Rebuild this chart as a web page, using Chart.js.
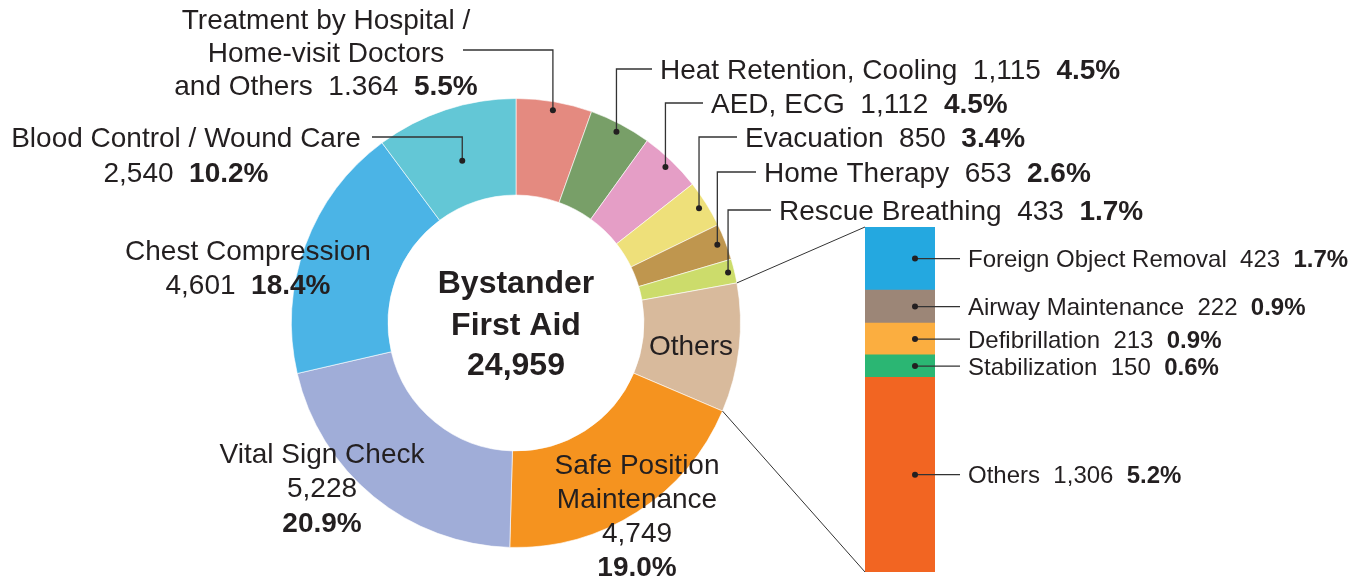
<!DOCTYPE html>
<html>
<head>
<meta charset="utf-8">
<script src="https://cdn.jsdelivr.net/npm/chart.js@4.4.1/dist/chart.umd.min.js"></script>
<style>
  body { margin: 0; background: #fff; }
  #wrap { position: relative; width: 1362px; height: 580px; }
  #wrap canvas { position: absolute; left: 0; top: 0; }
</style>
</head>
<body>
<div id="wrap">
  <canvas id="pieChart" width="1362" height="580"></canvas>
  <canvas id="barChart" width="1362" height="580"></canvas>
</div>
<script>
// Main ring, clockwise from 12 o'clock
const categories = [
    'Treatment by Hospital / Home-visit Doctors and Others',
    'Heat Retention, Cooling',
    'AED, ECG',
    'Evacuation',
    'Home Therapy',
    'Rescue Breathing',
    'Others',
    'Safe Position Maintenance',
    'Vital Sign Check',
    'Chest Compression',
    'Blood Control / Wound Care'
];
const values = [1364, 1115, 1112, 850, 653, 433, 2314, 4749, 5228, 4601, 2540];
// value text as printed in the source (note "1.364")
const valueLabels = ['1.364', '1,115', '1,112', '850', '653', '433', '2,314', '4,749', '5,228', '4,601', '2,540'];
const colors = [
    '#E48A80',  // Treatment
    '#789F68',  // Heat Retention
    '#E59EC6',  // AED
    '#EEE07A',  // Evacuation
    '#BF964E',  // Home Therapy
    '#CCDC6B',  // Rescue Breathing
    '#D8BA9C',  // Others
    '#F5931F',  // Safe Position
    '#A0ADD8',  // Vital Sign
    '#4BB4E6',  // Chest Compression
    '#63C7D6'   // Blood Control
];

// Breakdown of "Others", top to bottom
const otherCategories = ['Foreign Object Removal', 'Airway Maintenance', 'Defibrillation', 'Stabilization', 'Others'];
const otherValues = [423, 222, 213, 150, 1306];
const otherColors = ['#24A8E0', '#9C8677', '#FBAE40', '#2BB673', '#F26522'];

const centerTitle = ['Bystander', 'First Aid'];

const FONT = '"Liberation Sans", Arial, Helvetica, sans-serif';
const TEXT_COLOR = '#231F20';
const LINE_COLOR = '#333333';

const total = values.reduce((a, b) => a + b, 0);
const pct = v => (v / total * 100).toFixed(1) + '%';

// label placement per slice ({v} = value, {p} = bold percent)
const labelLayout = [
    { align: 'center', x: 326, ys: [29, 62, 95], lines: ['Treatment by Hospital /', 'Home-visit Doctors', 'and Others  {v}  {p}'], dotR: 216, lineY: 50, lineX: 463 },
    { align: 'left', x: 660, ys: [79], lines: ['Heat Retention, Cooling  {v}  {p}'], dotR: 216, lineY: 69, lineX: 652 },
    { align: 'left', x: 711, ys: [113], lines: ['AED, ECG  {v}  {p}'], dotR: 216, lineY: 103, lineX: 703 },
    { align: 'left', x: 745, ys: [147], lines: ['Evacuation  {v}  {p}'], dotR: 216, lineY: 137, lineX: 737 },
    { align: 'left', x: 764, ys: [182], lines: ['Home Therapy  {v}  {p}'], dotR: 216, lineY: 172, lineX: 756 },
    { align: 'left', x: 779, ys: [220], lines: ['Rescue Breathing  {v}  {p}'], dotR: 218, lineY: 210, lineX: 771 },
    { align: 'center', x: 691, ys: [355], lines: ['Others'] },
    { align: 'center', x: 637, ys: [474, 508, 542, 576], lines: ['Safe Position', 'Maintenance', '{v}', '{p}'] },
    { align: 'center', x: 322, ys: [463, 497, 532], lines: ['Vital Sign Check', '{v}', '{p}'] },
    { align: 'center', x: 248, ys: [260, 294], lines: ['Chest Compression', '{v}  {p}'] },
    { align: 'center', x: 186, ys: [147, 182], lines: ['Blood Control / Wound Care', '{v}  {p}'], dotR: 171, lineY: 137, lineX: 372 }
];

// split a template line into [text, bold] pieces
function toSegments(tpl, valueText, pctText) {
    const s = tpl.replace('{v}', valueText);
    const parts = s.split('{p}');
    const segs = [];
    parts.forEach((p, i) => {
        if (p) segs.push([p, false]);
        if (i < parts.length - 1) segs.push([pctText, true]);
    });
    return segs;
}

function drawSegments(ctx, segs, x, y, align, size) {
    const widths = segs.map(([t, b]) => {
        ctx.font = (b ? 'bold ' : '') + size + 'px ' + FONT;
        return ctx.measureText(t).width;
    });
    const w = widths.reduce((a, b) => a + b, 0);
    let cx = align === 'center' ? x - w / 2 : x;
    ctx.textAlign = 'left';
    ctx.textBaseline = 'alphabetic';
    segs.forEach(([t, b], i) => {
        ctx.font = (b ? 'bold ' : '') + size + 'px ' + FONT;
        ctx.fillText(t, cx, y);
        cx += widths[i];
    });
}

function dot(ctx, x, y) {
    ctx.beginPath();
    ctx.arc(x, y, 3, 0, Math.PI * 2);
    ctx.fill();
}

const pieLabels = {
    id: 'pieLabels',
    afterDraw(chart) {
        const ctx = chart.ctx;
        const arcs = chart.getDatasetMeta(0).data;
        ctx.save();
        ctx.fillStyle = TEXT_COLOR;

        // centre text
        const cx = arcs[0].x, cy = arcs[0].y;
        drawSegments(ctx, [[centerTitle[0], true]], cx, cy - 30, 'center', 32);
        drawSegments(ctx, [[centerTitle[1], true]], cx, cy + 12, 'center', 32);
        drawSegments(ctx, [[total.toLocaleString('en-US'), true]], cx, cy + 52, 'center', 32);

        labelLayout.forEach((lay, i) => {
            lay.lines.forEach((tpl, j) => {
                drawSegments(ctx, toSegments(tpl, valueLabels[i], pct(values[i])), lay.x, lay.ys[j], lay.align, 28);
            });
            if (lay.dotR) {
                const a = arcs[i];
                const mid = (a.startAngle + a.endAngle) / 2;
                const px = a.x + Math.cos(mid) * lay.dotR;
                const py = a.y + Math.sin(mid) * lay.dotR;
                ctx.strokeStyle = LINE_COLOR;
                ctx.fillStyle = TEXT_COLOR;
                ctx.lineWidth = 1.3;
                ctx.beginPath();
                ctx.moveTo(px, py);
                ctx.lineTo(px, lay.lineY);
                ctx.lineTo(lay.lineX, lay.lineY);
                ctx.stroke();
                dot(ctx, px, py);
            }
        });
        ctx.restore();
    }
};

const pieChart = new Chart(document.getElementById('pieChart').getContext('2d'), {
    type: 'doughnut',
    data: {
        labels: categories,
        datasets: [{
            data: values,
            backgroundColor: colors,
            borderColor: 'rgba(255,255,255,0.6)',
            borderWidth: 1
        }]
    },
    options: {
        responsive: false,
        animation: false,
        cutout: '57%',
        layout: { padding: { left: 291, right: 621, top: 98, bottom: 32 } },
        plugins: { legend: { display: false }, tooltip: { enabled: false } }
    },
    plugins: [pieLabels]
});

const barLabels = {
    id: 'barLabels',
    afterDraw(chart) {
        const ctx = chart.ctx;
        const n = chart.data.datasets.length;
        const bottomBar = chart.getDatasetMeta(0).data[0];
        const topBar = chart.getDatasetMeta(n - 1).data[0];
        const left = bottomBar.x - bottomBar.width / 2;

        // connectors from the "Others" slice to the bar
        const othersArc = pieChart.getDatasetMeta(0).data[categories.indexOf('Others')];
        const r = othersArc.outerRadius;
        ctx.save();
        ctx.strokeStyle = LINE_COLOR;
        ctx.lineWidth = 1;
        ctx.beginPath();
        ctx.moveTo(othersArc.x + Math.cos(othersArc.startAngle) * r, othersArc.y + Math.sin(othersArc.startAngle) * r);
        ctx.lineTo(left, topBar.y);
        ctx.moveTo(othersArc.x + Math.cos(othersArc.endAngle) * r, othersArc.y + Math.sin(othersArc.endAngle) * r);
        ctx.lineTo(left, bottomBar.base);
        ctx.stroke();

        chart.data.datasets.forEach((ds, i) => {
            const bar = chart.getDatasetMeta(i).data[0];
            const cy = (bar.y + bar.base) / 2;
            const px = bar.x + 15;
            ctx.strokeStyle = LINE_COLOR;
            ctx.lineWidth = 1.3;
            ctx.beginPath();
            ctx.moveTo(px, cy);
            ctx.lineTo(px + 45, cy);
            ctx.stroke();
            ctx.fillStyle = TEXT_COLOR;
            dot(ctx, px, cy);
            const v = ds.data[0];
            drawSegments(ctx, [[ds.label + '  ' + v.toLocaleString('en-US') + '  ', false], [pct(v), true]],
                px + 53, cy + 8.5, 'left', 24);
        });
        ctx.restore();
    }
};

// stacked bottom-to-top, so reverse the top-to-bottom lists
const barDatasets = otherCategories.map((label, i) => ({
    label,
    data: [otherValues[i]],
    backgroundColor: otherColors[i],
    borderWidth: 0,
    barPercentage: 1,
    categoryPercentage: 1
})).reverse();

new Chart(document.getElementById('barChart').getContext('2d'), {
    type: 'bar',
    data: { labels: ['Others'], datasets: barDatasets },
    options: {
        responsive: false,
        animation: false,
        layout: { padding: { left: 865, right: 427, top: 227, bottom: 8 } },
        scales: {
            x: { display: false, stacked: true },
            y: { display: false, stacked: true, min: 0, max: otherValues.reduce((a, b) => a + b, 0) }
        },
        plugins: { legend: { display: false }, tooltip: { enabled: false } }
    },
    plugins: [barLabels]
});
</script>
</body>
</html>
